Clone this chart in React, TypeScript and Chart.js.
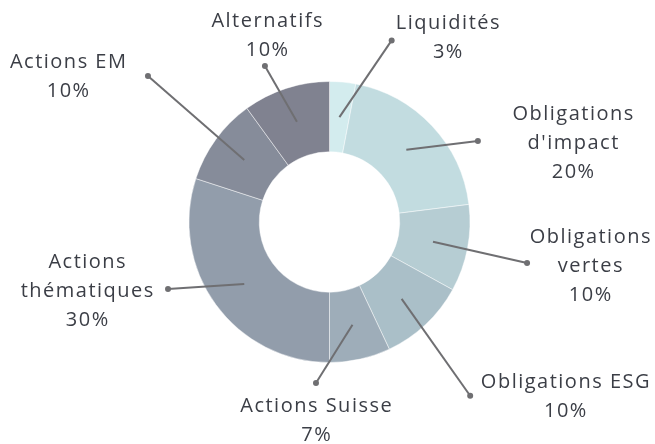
import React, { useEffect, useRef } from "react";
import { Chart, registerables } from "chart.js";

Chart.register(...registerables);

const categories = [
  "Liquidités",
  "Obligations d'impact",
  "Obligations vertes",
  "Obligations ESG",
  "Actions Suisse",
  "Actions thématiques",
  "Actions EM",
  "Alternatifs",
];
const values = [3, 20, 10, 10, 7, 30, 10, 10];
const labelLines = [
  ["Liquidités", "3%"],
  ["Obligations", "d'impact", "20%"],
  ["Obligations", "vertes", "10%"],
  ["Obligations ESG", "10%"],
  ["Actions Suisse", "7%"],
  ["Actions", "thématiques", "30%"],
  ["Actions EM", "10%"],
  ["Alternatifs", "10%"],
];
const colors = [
  "#d3ecee",
  "#c2dce0",
  "#b6cdd3",
  "#aabfc8",
  "#9eadb9",
  "#929dab",
  "#868c9a",
  "#808290",
];

// Layout of the callouts: dot position in polar form (degrees clockwise from
// top, radius as a multiple of the outer radius) and label offset from the dot.
const calloutLayout = [
  { angle: 18.9, r: 1.366, dx: 56, dy: -3 },
  { angle: 61.4, r: 1.203, dx: 95, dy: 2 },
  { angle: 101.7, r: 1.436, dx: 63, dy: 3 },
  { angle: 141, r: 1.591, dx: 95, dy: 1 },
  { angle: 184.8, r: 1.15, dx: 0, dy: 38 },
  { angle: 247.5, r: 1.244, dx: -81, dy: 2 },
  { angle: 308.8, r: 1.658, dx: -80, dy: 1 },
  { angle: 337.5, r: 1.201, dx: 2, dy: -30 },
];

const FONT = "20px 'Open Sans'";
const LETTER_SPACING = 1.5;
const LINE_H = 29;

const calloutPlugin = {
  id: "callouts",
  afterDatasetsDraw(chart: any) {
    const ctx = chart.ctx;
    const meta = chart.getDatasetMeta(0);
    ctx.save();
    meta.data.forEach((arc: any, i: number) => {
      const p = arc.getProps(
        ["x", "y", "startAngle", "endAngle", "innerRadius", "outerRadius"],
        true
      );
      const mid = (p.startAngle + p.endAngle) / 2;
      const rMid = (p.innerRadius + p.outerRadius) / 2;
      const sx = p.x + Math.cos(mid) * rMid;
      const sy = p.y + Math.sin(mid) * rMid;
      const L = calloutLayout[i];
      const a = ((L.angle - 90) * Math.PI) / 180;
      const ex = p.x + Math.cos(a) * L.r * p.outerRadius;
      const ey = p.y + Math.sin(a) * L.r * p.outerRadius;

      ctx.strokeStyle = "#6f6f72";
      ctx.lineWidth = 2;
      ctx.beginPath();
      ctx.moveTo(sx, sy);
      ctx.lineTo(ex, ey);
      ctx.stroke();
      ctx.fillStyle = "#6f6f72";
      ctx.beginPath();
      ctx.arc(ex, ey, 3, 0, Math.PI * 2);
      ctx.fill();

      const lines = labelLines[i];
      const cx = ex + L.dx + LETTER_SPACING / 2;
      const cy = ey + L.dy;
      const top = cy - ((lines.length - 1) * LINE_H) / 2;
      ctx.font = FONT;
      try {
        (ctx as any).letterSpacing = LETTER_SPACING + "px";
      } catch (e) {}
      ctx.fillStyle = "#3b3e46";
      ctx.textAlign = "center";
      ctx.textBaseline = "middle";
      lines.forEach((t, j) => ctx.fillText(t, cx, top + j * LINE_H));
    });
    ctx.restore();
  },
};

export default function App() {
  const ref = useRef<HTMLCanvasElement | null>(null);
  useEffect(() => {
    if (!ref.current) return;
    const chart = new Chart(ref.current, {
      type: "doughnut",
      data: {
        labels: categories,
        datasets: [
          {
            data: values,
            backgroundColor: colors,
            borderColor: "rgba(255,255,255,0.45)",
            borderWidth: 1,
          },
        ],
      },
      options: {
        responsive: false,
        animation: false,
        cutout: "50%",
        layout: { padding: { left: 188, right: 184, top: 81, bottom: 81 } },
        plugins: { legend: { display: false }, tooltip: { enabled: false } },
      },
      plugins: [calloutPlugin],
    });
    return () => chart.destroy();
  }, []);
  return (
    <div style={{ position: "absolute", left: 0, top: 0, width: 655, height: 444 }}>
      <canvas ref={ref} width={655} height={444} />
    </div>
  );
}
